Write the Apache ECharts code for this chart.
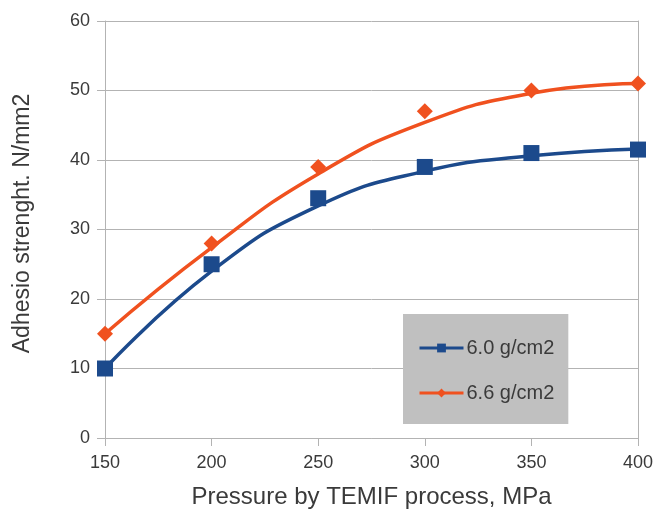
<!DOCTYPE html>
<html>
<head>
<meta charset="utf-8">
<script src="https://cdn.jsdelivr.net/npm/echarts@6/dist/echarts.min.js"></script>
<style>
  html, body { margin: 0; padding: 0; background: #fff; }
  #chart { width: 656px; height: 512px; }
</style>
</head>
<body>
<div id="chart"></div>
<script>
// measured points
const pressure = [150, 200, 250, 300, 350, 400];
const dens60 = [10, 25, 34.5, 39, 41, 41.5];
const dens66 = [15, 28, 39, 47, 50, 51];
// trend lines at the same pressures
const trend60 = [10, 24, 33.4, 38.4, 40.6, 41.6];
const trend66 = [15, 27.4, 38, 45.4, 49.6, 51];

const seriesNames = ["6.0 g/cm2", "6.6 g/cm2"];
const blue = "#1c4a8c";
const orange = "#f0511f";
const grey = "#b3b3b3";
const txt = "#3a3a3a";
const font = "Liberation Sans";

const pairs = (xs, ys) => xs.map((x, i) => [x, ys[i]]);

const chart = echarts.init(document.getElementById("chart"));

const option = {
  animation: false,
  textStyle: { fontFamily: font, color: txt },
  grid: { left: 105, right: 18, top: 21, bottom: 74, outerBoundsMode: "none", containLabel: false },
  legend: {
    data: seriesNames,
    orient: "vertical",
    left: 403,
    top: 314,
    padding: [24, 14, 21, 15],
    backgroundColor: "#c0c0c0",
    itemWidth: 44,
    itemHeight: 11,
    itemGap: 25,
    lineStyle: { width: 3 },
    textStyle: { fontFamily: font, fontSize: 20, color: txt, padding: [0, 0, 0, -2] }
  },
  xAxis: {
    type: "value",
    min: 150,
    max: 400,
    interval: 50,
    name: "Pressure by TEMIF process, MPa",
    nameLocation: "middle",
    nameGap: 47,
    nameTextStyle: { fontFamily: font, fontSize: 24, color: txt },
    axisLine: { show: true, lineStyle: { color: grey, width: 1 } },
    axisTick: { show: true, length: 8, lineStyle: { color: grey } },
    axisLabel: { margin: 16, fontSize: 18, color: txt, fontFamily: font },
    splitLine: { show: false }
  },
  yAxis: [
    {
      type: "value",
      min: 0,
      max: 60,
      interval: 10,
      name: "Adhesio strenght. N/mm2",
      nameLocation: "middle",
      nameGap: 71,
      nameTextStyle: { fontFamily: font, fontSize: 23, color: txt, padding: [0, 0, 0, 12] },
      axisLine: { show: true, lineStyle: { color: grey, width: 1 } },
      axisTick: { show: true, length: 8, lineStyle: { color: grey } },
      axisLabel: { margin: 15, fontSize: 18, color: txt, fontFamily: font },
      splitLine: { show: true, lineStyle: { color: grey, width: 1 } }
    },
    {
      type: "value",
      min: 0,
      max: 60,
      interval: 10,
      position: "right",
      axisLine: { show: true, lineStyle: { color: grey, width: 1 } },
      axisTick: { show: false },
      axisLabel: { show: false },
      splitLine: { show: false }
    }
  ],
  series: [
    {
      name: seriesNames[0],
      type: "line",
      smooth: 0.5,
      symbol: "rect",
      showSymbol: false,
      data: pairs(pressure, trend60),
      lineStyle: { color: blue, width: 3.5 },
      itemStyle: { color: blue },
      z: 2
    },
    {
      name: seriesNames[1],
      type: "line",
      smooth: 0.5,
      symbol: "diamond",
      showSymbol: false,
      data: pairs(pressure, trend66),
      lineStyle: { color: orange, width: 3.5 },
      itemStyle: { color: orange },
      z: 2
    },
    {
      name: seriesNames[0],
      type: "scatter",
      symbol: "rect",
      symbolSize: 16,
      data: pairs(pressure, dens60),
      itemStyle: { color: blue, opacity: 1 },
      z: 3
    },
    {
      name: seriesNames[1],
      type: "scatter",
      symbol: "diamond",
      symbolSize: 16,
      data: pairs(pressure, dens66),
      itemStyle: { color: orange, opacity: 1 },
      z: 3
    }
  ]
};

chart.setOption(option);
</script>
</body>
</html>
